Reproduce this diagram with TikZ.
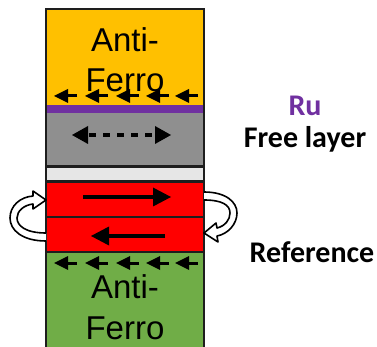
\documentclass[tikz,border=0pt]{standalone}
\usepackage{fontspec}
\setmainfont{Liberation Sans}
\newfontfamily\labelfont{Carlito}
\definecolor{afyellow}{HTML}{FFC000}
\definecolor{rupurple}{HTML}{7030A0}
\definecolor{freegray}{HTML}{8F8F8F}
\definecolor{spacergray}{HTML}{E6E6E6}
\definecolor{refred}{HTML}{FF0000}
\definecolor{afgreen}{HTML}{70AD47}
\definecolor{framecol}{HTML}{1E1E1E}
\tikzset{
  layerline/.style={draw=framecol, line width=2.2pt},
  aftext/.style={font=\fontsize{33}{40}\selectfont, anchor=base, inner sep=0pt},
  sidelabel/.style={font=\labelfont\bfseries\fontsize{30}{34}\selectfont, anchor=base, inner sep=0pt},
  shaft/.style={line width=3pt},
  curlarrow/.style={fill=white, draw=black, line width=1.6pt, line join=round}
}
% left-pointing head at (#1,#2), length #3, half width #4
\newcommand{\lhead}[4]{\fill (#1,#2) -- (#1+#3,#2-#4) -- (#1+#3,#2+#4) -- cycle;}
\newcommand{\rhead}[4]{\fill (#1,#2) -- (#1-#3,#2-#4) -- (#1-#3,#2+#4) -- cycle;}
\begin{document}
\begin{tikzpicture}[x=1pt,y=-1pt]
\useasboundingbox (0,0) rectangle (377,347);
% layers
\fill[afyellow] (46,9) rectangle (204,105);
\fill[rupurple] (46,105) rectangle (204,113);
\fill[freegray] (46,113) rectangle (204,166);
\fill[spacergray] (46,166) rectangle (204,182);
\fill[refred] (46,182) rectangle (204,252);
\fill[afgreen] (46,252) rectangle (204,352);
% separators
\draw[layerline] (46,166.5) -- (204,166.5);
\draw[layerline] (46,181.5) -- (204,181.5);
\draw[layerline, line width=2.8pt] (46,217) -- (204,217);
\draw[layerline] (46,252) -- (204,252);
\draw[layerline, line width=2.6pt] (46,352) -- (46,9) -- (204,9) -- (204,352);
% texts in stack
\node[aftext] (ya) at (125,52) {Anti-};
\node[aftext] (yf) at (125,92) {Ferro};
\node[aftext] (ga) at (125,298) {Anti-};
\node[aftext] (gf) at (125,339) {Ferro};
% pinning arrows
\foreach \t in {54,85,116,146,175}{
  \draw[shaft] (\t+23,96) -- (\t+10,96);
  \lhead{\t}{96}{14}{7}
  \draw[shaft] (\t+23,263) -- (\t+10,263);
  \lhead{\t}{263}{14}{7}
}
% free layer arrow
\coordinate (fl) at (86,135);
\coordinate (fr) at (157,135);
\draw[shaft, line width=3.2pt, dash pattern=on 7pt off 7pt, dash phase=-3pt] (fl) -- (fr);
\lhead{72}{135}{16}{9}
\rhead{171}{135}{16}{9}
% reference arrows
\coordinate (r1a) at (83,197);
\coordinate (r1b) at (156,197);
\draw[shaft, line width=3.2pt] (r1a) -- (r1b);
\rhead{171}{197}{18}{9.5}
\coordinate (r2a) at (165,236);
\coordinate (r2b) at (105,236);
\draw[shaft, line width=3.2pt] (r2a) -- (r2b);
\lhead{91}{236}{18}{9.5}
% curved arrows
\draw[curlarrow] (46,241) .. controls (22,241) and (10,230) .. (10,218)
  .. controls (10,206) and (20,197) .. (33,196) -- (33,191) -- (46,200)
  -- (33,209) -- (33,204) .. controls (24,205) and (17,211) .. (17,218)
  .. controls (17,226) and (26,233) .. (46,233);
\draw[curlarrow] (204,192) .. controls (226,192) and (237,202) .. (237,213)
  .. controls (237,224) and (228,234) .. (217,236) -- (218,242) -- (204,233)
  -- (216,223) -- (217,228) .. controls (225,226) and (230,220) .. (230,213)
  .. controls (230,205) and (222,200) .. (204,200);
% side labels
\node[sidelabel, text=rupurple] (ru) at (305,116) {Ru};
\node[sidelabel] (free) at (305,148) {Free layer};
\node[sidelabel] (ref) at (312,262) {Reference};
\end{tikzpicture}
\end{document}
